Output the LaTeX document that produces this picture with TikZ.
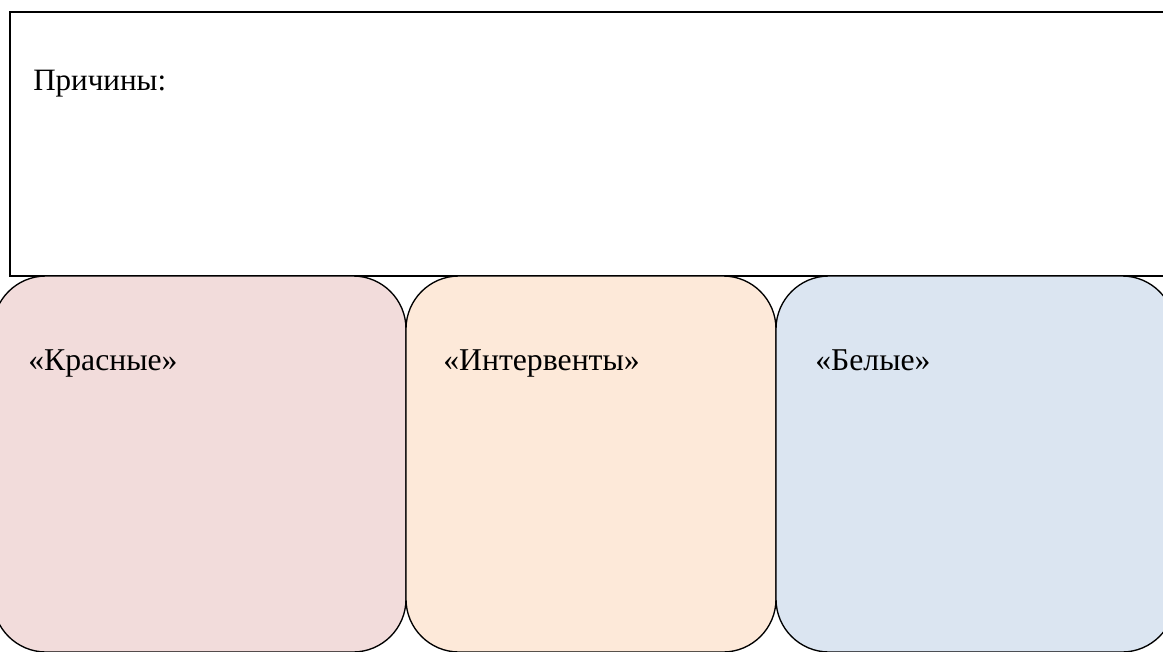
\documentclass[tikz,border=0pt]{standalone}
\usepackage{fontspec}
\setmainfont{Liberation Serif}
\definecolor{redfill}{HTML}{F2DCDB}
\definecolor{orangefill}{HTML}{FDE9D9}
\definecolor{bluefill}{HTML}{DBE5F1}
\begin{document}
\begin{tikzpicture}[
  x=0.75pt,y=-0.75pt,
  font=\fontsize{23.8}{28}\selectfont,
  frame/.style={draw,line width=1pt},
  side/.style={draw,line width=1pt,rounded corners=39.75pt},
  label/.style={anchor=base west,inner sep=0pt}
]
\useasboundingbox (0,0) rectangle (1163,651);
\clip (0,0) rectangle (1163,651);

\draw[frame,fill=white] (10,12) rectangle (1180,276);
\node[label,font=\fontsize{23.3}{28}\selectfont] (causes) at (33,90) {Причины:};

\draw[side,fill=redfill] (-7,276) rectangle (406,652);
\draw[side,fill=orangefill] (406,276) rectangle (776,652);
\draw[side,fill=bluefill] (776,276) rectangle (1175,652);

\node[label] (reds) at (28,370) {«Красные»};
\node[label] (interv) at (443,370) {«Интервенты»};
\node[label] (whites) at (815,370) {«Белые»};
\end{tikzpicture}
\end{document}
